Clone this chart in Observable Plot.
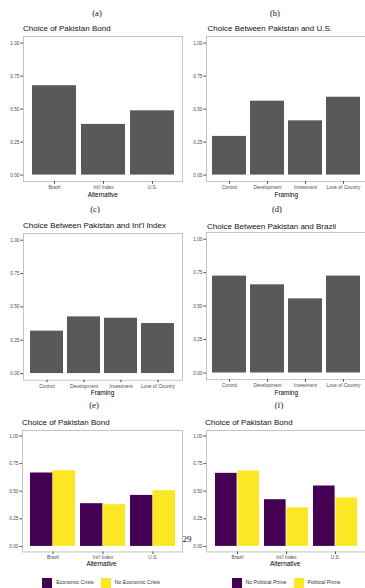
<!DOCTYPE html>
<html><head><meta charset="utf-8">
<script src="https://cdn.jsdelivr.net/npm/d3@7"></script>
<script src="https://cdn.jsdelivr.net/npm/@observablehq/plot@0.6"></script>
<style>
body{margin:0;background:#fff;}
#page{position:relative;width:365px;height:588px;overflow:hidden;font-family:"Liberation Sans",Arial,sans-serif;background:#fff;}
.abs{position:absolute;white-space:nowrap;line-height:1;}
.sub{font-family:"Liberation Serif",serif;font-size:8.5px;transform:translate(-50%,-50%);color:#111;}
.title{font-size:8px;transform:translateY(-50%);color:#111;}
.axt{font-size:6.4px;transform:translate(-50%,-50%);color:#000;}
.leg{font-size:5.2px;color:#333;transform:translateY(-50%);}
.sw{position:absolute;width:10px;height:10px;}
</style></head><body><div id="page"></div>
<script>
// ---- data ----
const alternatives = ["Brazil", "Int'l Index", "U.S."];
const framings = ["Control", "Development", "Investment", "Love of Country"];
const yTicks = [0, 0.25, 0.5, 0.75, 1];
const bondShare = [0.677, 0.384, 0.487];
const usShare = [0.293, 0.56, 0.411, 0.59];
const indexShare = [0.318, 0.425, 0.415, 0.375];
const brazilShare = [0.724, 0.659, 0.554, 0.724];
const crisisGroups = ["Economic Crisis", "No Economic Crisis"];
const crisisValues = [[0.665, 0.686], [0.387, 0.378], [0.462, 0.505]];
const primeGroups = ["No Political Prime", "Political Prime"];
const primeValues = [[0.662, 0.683], [0.423, 0.35], [0.547, 0.439]];
const seriesColors = ["#440154", "#FDE725"];
const barGray = "#595959";

const page = document.getElementById("page");
function addText(cls, txt, x, y) {
  const d = document.createElement("div");
  d.className = "abs " + cls; d.textContent = txt;
  d.style.left = x + "px"; d.style.top = y + "px";
  page.appendChild(d); return d;
}

function panel(p) {
  const {x0, x1, y1, y0, cats} = p;
  const u = y0 - y1;
  const yt = y1 - 0.05 * u, yb = y0 + 0.05 * u;
  const ml = 24, mr = 2, mt = 2, mb = 10;
  const W = x1 - x0, H = yb - yt;
  const step = W / (cats.length + 0.2);
  const bw = step * 0.9;
  let marks;
  if (p.groups) {
    const rows = [];
    cats.forEach((c, i) => p.groups.forEach((g, j) => rows.push({cat: c, group: g, j, v: p.values[i][j]})));
    marks = [
      Plot.barY(rows.filter(r => r.j === 0), {x: "cat", y: "v", fill: seriesColors[0], insetRight: bw / 2}),
      Plot.barY(rows.filter(r => r.j === 1), {x: "cat", y: "v", fill: seriesColors[1], insetLeft: bw / 2})
    ];
  } else {
    const rows = cats.map((c, i) => ({cat: c, v: p.values[i]}));
    marks = [Plot.barY(rows, {x: "cat", y: "v", fill: barGray})];
  }
  const svg = Plot.plot({
    width: W + ml + mr, height: H + mt + mb,
    marginLeft: ml, marginRight: mr, marginTop: mt, marginBottom: mb,
    style: {background: "transparent", fontFamily: "Liberation Sans, Arial, sans-serif"},
    x: {domain: cats, paddingInner: 0.1, paddingOuter: 0.15},
    y: {domain: [-0.05, 1.05]},
    marks: [
      ...marks,
      Plot.frame({stroke: "#bdbdbd", strokeWidth: 0.9}),
      Plot.axisY({ticks: yTicks, tickFormat: d3.format(".2f"), tickSize: 2.5, tickPadding: 1.5, fontSize: 4.8, fill: "#4d4d4d", stroke: "#444", label: null}),
      Plot.axisX({tickSize: 2.5, tickPadding: 1.5, fontSize: 4.8, fill: "#4d4d4d", stroke: "#444", label: null})
    ]
  });
  svg.style.position = "absolute";
  svg.style.left = (x0 - ml) + "px";
  svg.style.top = (yt - mt) + "px";
  page.appendChild(svg);
  addText("title", p.title, p.tx, p.ty);
  addText("axt", p.xlab, (x0 + x1) / 2, p.ay);
  addText("sub", p.sub, p.sx, p.sy);
}

panel({sub: "(a)", sx: 97, sy: 12.5, title: "Choice of Pakistan Bond", tx: 23, ty: 29, xlab: "Alternative", ay: 195,
  x0: 23.2, x1: 182.3, y1: 43, y0: 175, cats: alternatives, values: bondShare});
panel({sub: "(b)", sx: 275, sy: 12.5, title: "Choice Between Pakistan and U.S.", tx: 207.5, ty: 29, xlab: "Framing", ay: 195,
  x0: 206, x1: 366.5, y1: 43, y0: 175, cats: framings, values: usShare});
panel({sub: "(c)", sx: 95, sy: 208.5, title: "Choice Between Pakistan and Int'l Index", tx: 23, ty: 226, xlab: "Framing", ay: 393,
  x0: 23, x1: 182, y1: 239.3, y0: 372.7, cats: framings, values: indexShare});
panel({sub: "(d)", sx: 277, sy: 208.5, title: "Choice Between Pakistan and Brazil", tx: 207, ty: 226.5, xlab: "Framing", ay: 393,
  x0: 206, x1: 366.5, y1: 238.5, y0: 372.3, cats: framings, values: brazilShare});
panel({sub: "(e)", sx: 94, sy: 405, title: "Choice of Pakistan Bond", tx: 22, ty: 423, xlab: "Alternative", ay: 564,
  x0: 21.5, x1: 181.5, y1: 435.3, y0: 545.7, cats: alternatives, groups: crisisGroups, values: crisisValues});
panel({sub: "(f)", sx: 279, sy: 405, title: "Choice of Pakistan Bond", tx: 205, ty: 423, xlab: "Alternative", ay: 564,
  x0: 205.5, x1: 364.7, y1: 435.3, y0: 545.7, cats: alternatives, groups: primeGroups, values: primeValues});

function legend(groups, positions, y) {
  groups.forEach((g, j) => {
    const s = document.createElement("div");
    s.className = "sw"; s.style.background = seriesColors[j];
    s.style.left = positions[j] + "px"; s.style.top = (y - 5) + "px";
    page.appendChild(s);
    addText("leg", g, positions[j] + 14, y);
  });
}
legend(crisisGroups, [42.3, 100.7], 583);
legend(primeGroups, [231.5, 293.5], 583);

const pn = addText("sub", "29", 187, 539);
pn.style.fontSize = "9px";
</script></body></html>
